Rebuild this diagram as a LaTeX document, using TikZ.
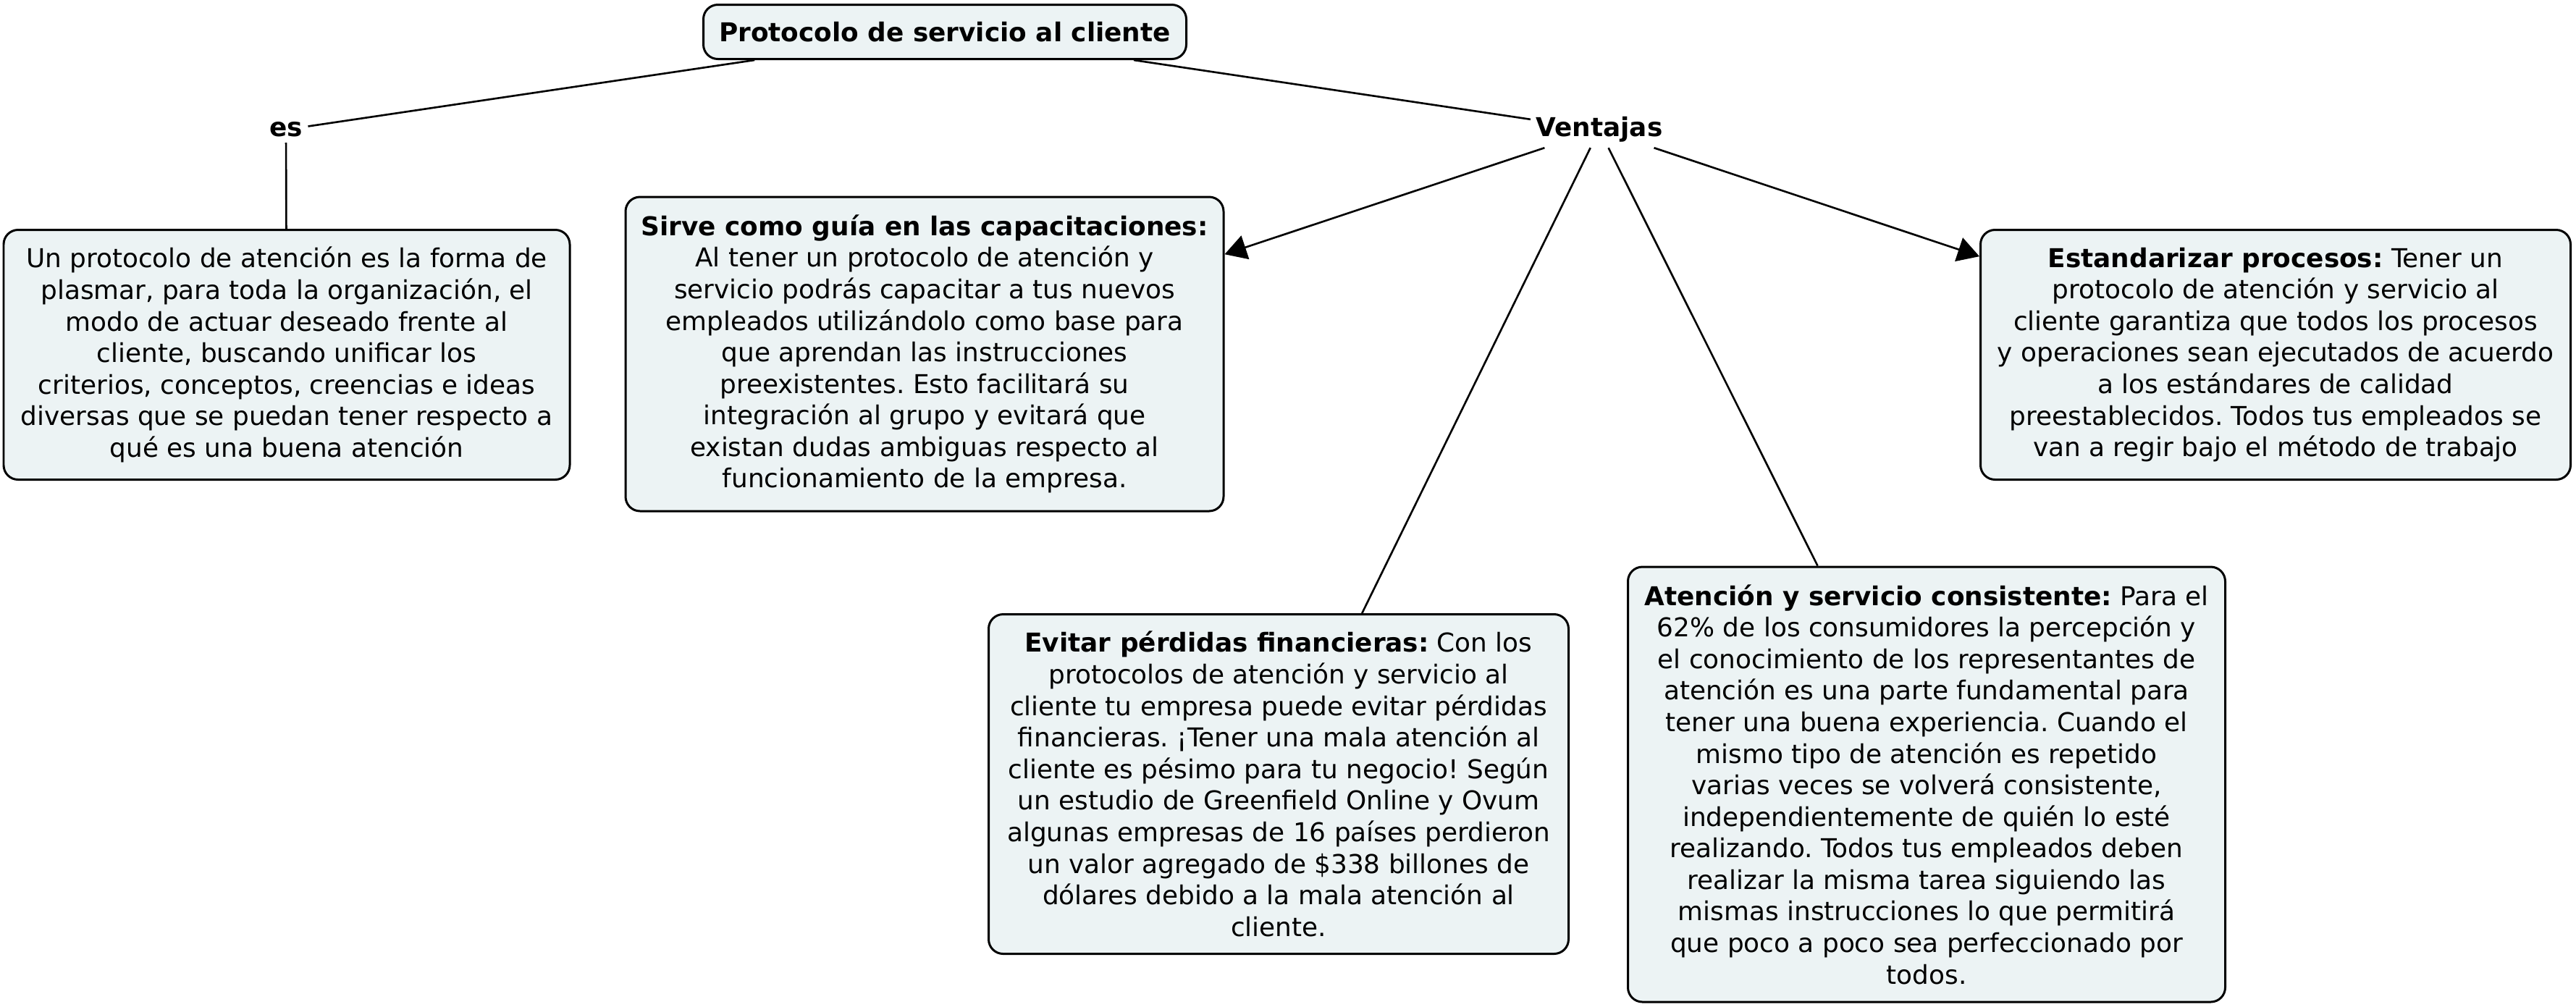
\documentclass[tikz,border=0pt]{standalone}
\usepackage{fontspec}
\setmainfont{DejaVu Sans}
\usetikzlibrary{arrows.meta}
\frenchspacing

\definecolor{fondocaja}{RGB}{236,243,244}

\tikzset{
  caja/.style={draw=black, fill=fondocaja, rounded corners=0.2cm,
    line width=0.85pt, align=center, inner sep=0pt,
    font=\fontsize{10.2}{12.4}\selectfont},
  enlace/.style={inner sep=0.07cm, font=\bfseries\fontsize{10.2}{12.4}\selectfont},
  linea/.style={line width=0.75pt},
  flecha/.style={linea, -{Triangle[length=0.3cm,width=0.34cm]}}
}

\begin{document}
\begin{tikzpicture}[x=1cm,y=1cm]
\useasboundingbox (0,0) rectangle (35.58,-13.90);

\node[caja, minimum width=6.67cm, minimum height=0.75cm, font=\bfseries\fontsize{10.2}{12.4}\selectfont]
  (protocolo) at (13.05,-0.44) {Protocolo de servicio al cliente};

\node[enlace] (es) at (3.95,-1.79) {es};
\node[enlace] (ventajas) at (22.09,-1.79) {Ventajas};

\node[caja, minimum width=7.82cm, minimum height=3.45cm] (definicion) at (3.96,-4.90)
  {Un protocolo de atención es la forma de\\
   plasmar, para toda la organización, el\\
   modo de actuar deseado frente al\\
   cliente, buscando unificar los\\
   criterios, conceptos, creencias e ideas\\
   diversas que se puedan tener respecto a\\
   qué es una buena atención};

\node[caja, minimum width=8.26cm, minimum height=4.34cm] (guia) at (12.77,-4.89)
  {\textbf{Sirve como guía en las capacitaciones:}\\
   Al tener un protocolo de atención y\\
   servicio podrás capacitar a tus nuevos\\
   empleados utilizándolo como base para\\
   que aprendan las instrucciones\\
   preexistentes. Esto facilitará su\\
   integración al grupo y evitará que\\
   existan dudas ambiguas respecto al\\
   funcionamiento de la empresa.};

\node[caja, minimum width=8.15cm, minimum height=3.45cm] (estandar) at (31.43,-4.90)
  {\textbf{Estandarizar procesos:} Tener un\\
   protocolo de atención y servicio al\\
   cliente garantiza que todos los procesos\\
   y operaciones sean ejecutados de acuerdo\\
   a los estándares de calidad\\
   preestablecidos. Todos tus empleados se\\
   van a regir bajo el método de trabajo};

\node[caja, minimum width=8.01cm, minimum height=4.69cm] (perdidas) at (17.66,-10.83)
  {\textbf{Evitar pérdidas financieras:} Con los\\
   protocolos de atención y servicio al\\
   cliente tu empresa puede evitar pérdidas\\
   financieras. ¡Tener una mala atención al\\
   cliente es pésimo para tu negocio! Según\\
   un estudio de Greenfield Online y Ovum\\
   algunas empresas de 16 países perdieron\\
   un valor agregado de \$338 billones de\\
   dólares debido a la mala atención al\\
   cliente.};

\node[caja, minimum width=8.25cm, minimum height=6.01cm] (consistente) at (26.61,-10.835)
  {\textbf{Atención y servicio consistente:} Para el\\
   62\% de los consumidores la percepción y\\
   el conocimiento de los representantes de\\
   atención es una parte fundamental para\\
   tener una buena experiencia. Cuando el\\
   mismo tipo de atención es repetido\\
   varias veces se volverá consistente,\\
   independientemente de quién lo esté\\
   realizando. Todos tus empleados deben\\
   realizar la misma tarea siguiendo las\\
   mismas instrucciones lo que permitirá\\
   que poco a poco sea perfeccionado por\\
   todos.};

\draw[linea] (protocolo) -- (es);
\draw[linea] (protocolo) -- (ventajas);
\draw[linea] (es) -- (definicion);
\draw[flecha] (ventajas) -- (guia);
\draw[flecha] (ventajas) -- (estandar);
\draw[linea] (ventajas) -- (perdidas);
\draw[linea] (ventajas) -- (consistente);

\end{tikzpicture}
\end{document}
